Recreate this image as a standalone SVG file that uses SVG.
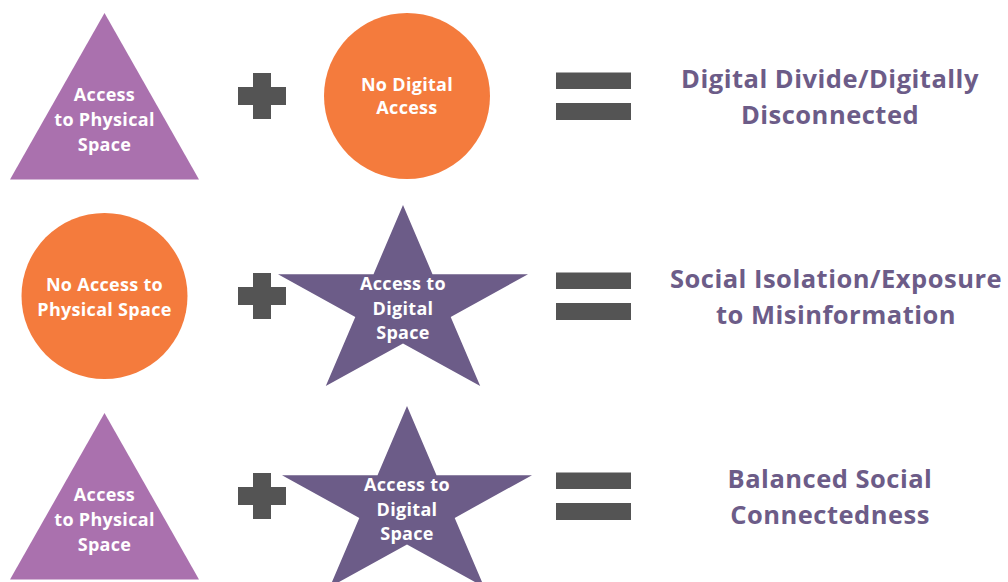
<svg xmlns="http://www.w3.org/2000/svg" width="1008" height="582" viewBox="0 0 1008 582">
<defs>
<style>
.tri{fill:#AA71AE}
.circ{fill:#F47B3D}
.star{fill:#6C5C88}
.op{fill:#545454}
.lbl{font-family:"Open Sans","Liberation Sans",sans-serif;font-weight:700;font-size:18px;letter-spacing:0.3px;fill:#FFFFFF;text-anchor:middle}
.res{font-family:"Open Sans","Liberation Sans",sans-serif;font-weight:700;font-size:25.5px;letter-spacing:0.5px;fill:#6C5C88;text-anchor:middle}
</style>
<path id="plus" d="M253,73 H271 V87 H286 V105 H271 V119 H253 V105 H238 V87 H253 Z"/>
<path id="star" d="M403,205 L432.5,274.2 L528,274.2 L450.7,316.9 L480.2,386.1 L403,343.4 L325.8,386.1 L355.3,316.9 L278,274.2 L373.5,274.2 Z"/>
</defs>
<rect width="1008" height="582" fill="#FFFFFF"/>

<g id="row1-triangle">
<polygon class="tri" points="104.5,13 10,179.5 199,179.5"/>
<text class="lbl" x="104.5" y="100.5">Access</text>
<text class="lbl" x="104.5" y="126">to Physical</text>
<text class="lbl" x="104.5" y="150.5">Space</text>
</g>
<g id="row1-plus"><use href="#plus" class="op"/></g>
<g id="row1-circle">
<circle class="circ" cx="407" cy="96" r="83"/>
<text class="lbl" x="407" y="90.5">No Digital</text>
<text class="lbl" x="407" y="113.5">Access</text>
</g>
<g id="row1-equals" class="op">
<rect x="556" y="72.5" width="75" height="16.5"/>
<rect x="556" y="103" width="75" height="17"/>
</g>
<g id="row1-result">
<text class="res" x="830" y="87.5">Digital Divide/Digitally</text>
<text class="res" x="830" y="123.5">Disconnected</text>
</g>

<g id="row2-circle">
<circle class="circ" cx="104.5" cy="296" r="83"/>
<text class="lbl" x="104.5" y="290.5">No Access to</text>
<text class="lbl" x="104.5" y="315.5">Physical Space</text>
</g>
<g id="row2-plus"><use href="#plus" class="op" transform="translate(0,200)"/></g>
<g id="row2-star">
<use href="#star" class="star"/>
<text class="lbl" x="403" y="289.5">Access to</text>
<text class="lbl" x="403" y="314.5">Digital</text>
<text class="lbl" x="403" y="338.5">Space</text>
</g>
<g id="row2-equals" class="op">
<rect x="556" y="272.5" width="75" height="16.5"/>
<rect x="556" y="303" width="75" height="17"/>
</g>
<g id="row2-result">
<text class="res" x="836" y="287.5">Social Isolation/Exposure</text>
<text class="res" x="836" y="323.5">to Misinformation</text>
</g>

<g id="row3-triangle">
<polygon class="tri" points="104.5,413 10,579.5 199,579.5"/>
<text class="lbl" x="104.5" y="500.5">Access</text>
<text class="lbl" x="104.5" y="526">to Physical</text>
<text class="lbl" x="104.5" y="550.5">Space</text>
</g>
<g id="row3-plus"><use href="#plus" class="op" transform="translate(0,400)"/></g>
<g id="row3-star">
<use href="#star" class="star" transform="translate(4,201)"/>
<text class="lbl" x="407" y="490.5">Access to</text>
<text class="lbl" x="407" y="515.5">Digital</text>
<text class="lbl" x="407" y="539.5">Space</text>
</g>
<g id="row3-equals" class="op">
<rect x="556" y="472.5" width="75" height="16.5"/>
<rect x="556" y="503" width="75" height="17"/>
</g>
<g id="row3-result">
<text class="res" x="830" y="487.5">Balanced Social</text>
<text class="res" x="830" y="523.5">Connectedness</text>
</g>
</svg>
